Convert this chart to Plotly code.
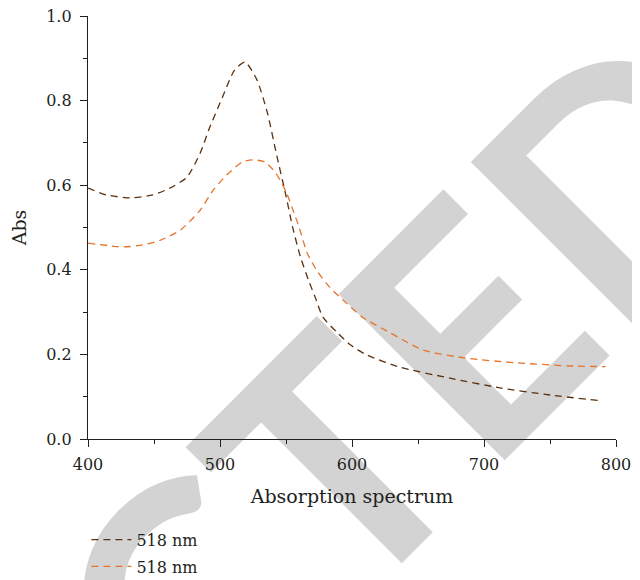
import plotly.graph_objects as go

# Data
dark_x = [400, 414, 432, 449, 462, 475, 485, 492, 502, 511, 519, 528, 536, 543, 550, 555,
          561, 567, 572, 578, 589, 599, 611, 636, 674, 712, 750, 790]
dark_y = [0.593, 0.577, 0.570, 0.577, 0.593, 0.619, 0.676, 0.735, 0.809, 0.872, 0.891, 0.849,
          0.770, 0.670, 0.575, 0.501, 0.430, 0.376, 0.336, 0.288, 0.251, 0.222, 0.199, 0.170,
          0.144, 0.121, 0.104, 0.090]
orange_x = [400, 427, 442, 455, 470, 485, 495, 505, 517, 525, 534, 542, 550, 556, 560, 566,
            573, 583, 593, 608, 629, 654, 687, 725, 763, 792]
orange_y = [0.463, 0.454, 0.459, 0.470, 0.494, 0.541, 0.589, 0.624, 0.655, 0.660, 0.655, 0.630,
            0.585, 0.535, 0.500, 0.440, 0.400, 0.359, 0.329, 0.288, 0.251, 0.210, 0.191, 0.180,
            0.173, 0.171]
series_names = ["518 nm", "518 nm"]
x_ticks = [400, 500, 600, 700, 800]
y_ticks = [0.0, 0.2, 0.4, 0.6, 0.8, 1.0]
y_tick_text = ["0.0", "0.2", "0.4", "0.6", "0.8", "1.0"]
watermark = "RETRACTED"

TXT = "#231f20"
FONT = "DejaVu Serif"

fig = go.Figure()
fig.add_trace(go.Scatter(x=dark_x, y=dark_y, mode="lines", name=series_names[0], legendgroup="a",
                         line=dict(color="#5a300e", width=1.3, dash="7px,5px", shape="spline", smoothing=0.6)))
fig.add_trace(go.Scatter(x=orange_x, y=orange_y, mode="lines", name=series_names[1], legendgroup="b",
                         line=dict(color="#e5732a", width=1.3, dash="7px,5px", shape="spline", smoothing=0.6)))

# Background "RETRACTED" watermark, drawn below the traces
fig.add_shape(type="rect", xref="paper", yref="paper",
              x0=-0.0958, x1=-0.0758, y0=-0.718, y1=-0.698,
              line=dict(width=0), fillcolor="rgba(0,0,0,0)", layer="below",
              label=dict(text=watermark, textangle=-45, textposition="middle center",
                         font=dict(family="Lato", size=325, color="#d3d3d3", weight="bold")))

fig.update_layout(
    width=632, height=572,
    margin=dict(l=80, r=24, t=8, b=141, autoexpand=False),
    paper_bgcolor="white", plot_bgcolor="white",
    font=dict(family=FONT, size=16, color=TXT),
    showlegend=True,
    legend=dict(x=-0.003, y=-0.198, xanchor="left", yanchor="top", bgcolor="rgba(0,0,0,0)",
                font=dict(family=FONT, size=16, color=TXT), tracegroupgap=3, itemwidth=40),
    xaxis=dict(range=[400, 800], tickvals=x_ticks, showgrid=False, zeroline=False, automargin=False,
               showline=True, linecolor=TXT, linewidth=1.3, ticks="outside", ticklen=7,
               tickwidth=1.3, tickcolor=TXT, ticklabelstandoff=4, ticklabeloverflow="allow",
               minor=dict(ticks="outside", ticklen=4, dtick=50, tickcolor=TXT, tickwidth=1.3),
               title=dict(text="Absorption spectrum", standoff=16)),
    yaxis=dict(range=[0, 1], tickvals=y_ticks, ticktext=y_tick_text, showgrid=False, zeroline=False,
               automargin=False,
               showline=True, linecolor=TXT, linewidth=1.3, ticks="outside", ticklen=7,
               tickwidth=1.3, tickcolor=TXT, ticklabelstandoff=5, ticklabeloverflow="allow",
               minor=dict(ticks="outside", ticklen=4, dtick=0.1, tickcolor=TXT, tickwidth=1.3),
               title=dict(text="Abs", standoff=18)),
)

fig.write_html("out.html")
